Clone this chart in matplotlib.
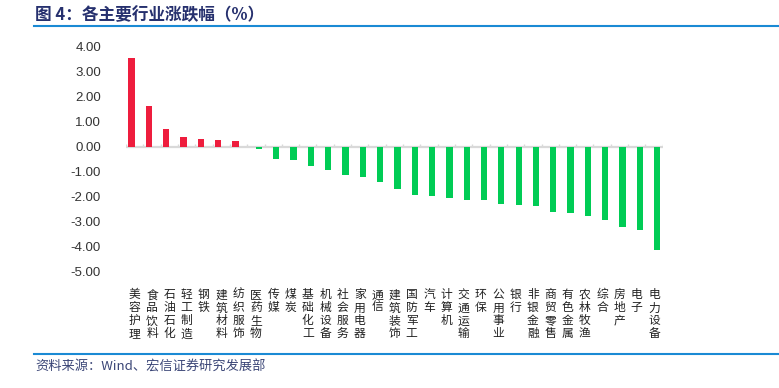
import matplotlib
matplotlib.use('Agg')
import matplotlib.pyplot as plt
import numpy as np

plt.rcParams['font.family'] = ['Noto Sans CJK SC', 'DejaVu Sans']

# industries, sorted by change (%)
industries = ['美容护理', '食品饮料', '石油石化', '轻工制造', '钢铁', '建筑材料', '纺织服饰',
              '医药生物', '传媒', '煤炭', '基础化工', '机械设备', '社会服务', '家用电器',
              '通信', '建筑装饰', '国防军工', '汽车', '计算机', '交通运输', '环保',
              '公用事业', '银行', '非银金融', '商贸零售', '有色金属', '农林牧渔', '综合',
              '房地产', '电子', '电力设备']
changes = [3.56, 1.64, 0.71, 0.40, 0.29, 0.27, 0.23,
           -0.09, -0.51, -0.53, -0.79, -0.95, -1.12, -1.23,
           -1.40, -1.71, -1.92, -1.96, -2.07, -2.13, -2.13,
           -2.31, -2.32, -2.36, -2.63, -2.67, -2.77, -2.95,
           -3.21, -3.35, -4.12]
yticks = [4, 3, 2, 1, 0, -1, -2, -3, -4, -5]

red = '#EE1D3D'
green = '#00CC55'
navy = '#26306E'
blue = '#1A8AD4'

changes = np.array(changes)
x = np.arange(len(industries))
up = np.where(changes > 0, changes, 0)
down = np.where(changes < 0, changes, 0)

fig = plt.figure(figsize=(7.79, 3.88), dpi=100)
ax = fig.add_axes([126 / 779, 1 - 271.7 / 388, 536.7 / 779, 225 / 388])

w = 0.36
ax.bar(x - w / 2, up, w, color=red, zorder=3)
ax.bar(x + w / 2, down, w, color=green, zorder=3)

# zero line with category boundary ticks
ax.axhline(0, color='#D9D9D9', lw=1.6, zorder=2)
ax.vlines(np.arange(-0.5, len(industries)), 0, 0.12, color='#D9D9D9', lw=1, zorder=2)

ax.set_xlim(-0.5, len(industries) - 0.5)
ax.set_ylim(-5, 4)
ax.set_yticks(yticks)
ax.set_yticklabels(['%.2f' % v for v in yticks], family=['Liberation Sans', 'DejaVu Sans'],
                   fontsize=9.5, color='#333333')
ax.set_xticks(x)
ax.set_xticklabels(['\n'.join(n) for n in industries], fontsize=8.5, color='#222222',
                   linespacing=1.0, va='top')
ax.tick_params(axis='y', length=0, pad=18)
ax.tick_params(axis='x', length=0, pad=12)
for s in ax.spines.values():
    s.set_visible(False)

# title / source decoration
fig.text(35 / 779, 1 - 15 / 388, '图 4：各主要行业涨跌幅（%）', fontsize=12, color=navy,
         fontweight='bold', va='center', ha='left')
fig.add_artist(plt.Line2D([34 / 779, 1], [1 - 25.5 / 388] * 2, color=blue, lw=1.5))
fig.add_artist(plt.Line2D([34 / 779, 1], [1 - 354.3 / 388] * 2, color=blue, lw=1.5))
fig.text(35 / 779, 1 - 367 / 388, '资料来源：Wind、宏信证券研究发展部', fontsize=9.5, color='#3B4677',
         va='center', ha='left')

fig.savefig('out.png', dpi=100)
